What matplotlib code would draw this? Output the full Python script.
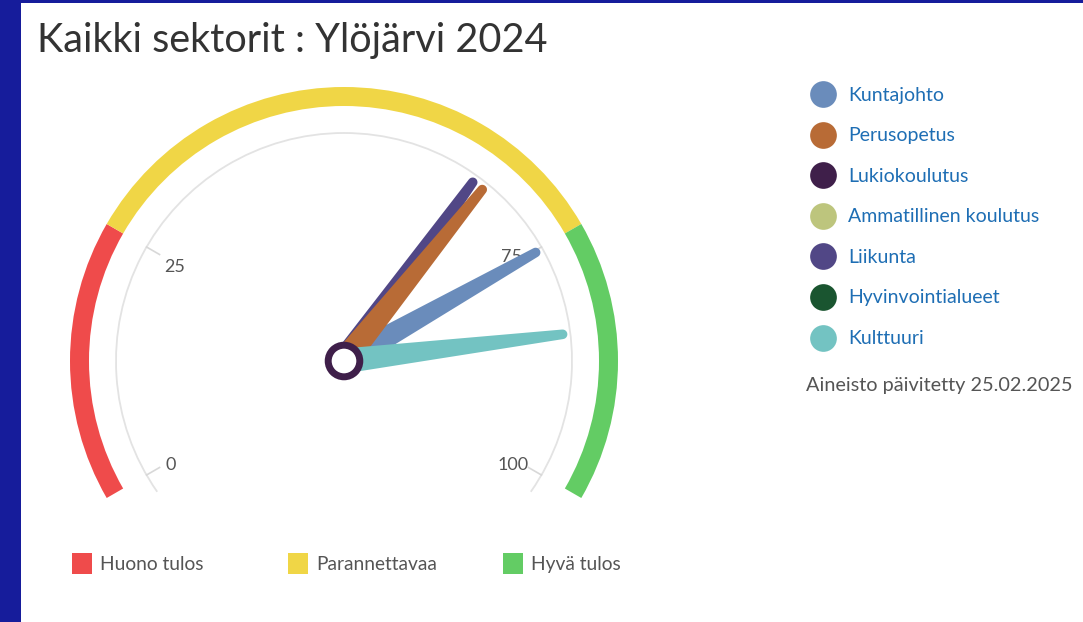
import numpy as np
import matplotlib.pyplot as plt
from matplotlib.patches import Wedge, Arc, Polygon, Circle, Rectangle

plt.rcParams['font.family'] = ['Lato', 'DejaVu Sans']

# sektorit ja arvot (0-100)
sektorit = ['Kuntajohto', 'Perusopetus', 'Lukiokoulutus', 'Ammatillinen koulutus',
            'Liikunta', 'Hyvinvointialueet', 'Kulttuuri']
arvot = [75.2, 66.2, None, None, 64.9, None, 84.6]
varit = ['#6a8cbb', '#b86b36', '#3f1f4a', '#bdc57d', '#514786', '#1a5530', '#73c3c2']
piirtojarjestys = [4, 0, 1, 6, 2, 3, 5]

# tulosalueet
alue_alku = [0, 25, 75]
alue_loppu = [25, 75, 100]
alue_nimet = ['Huono tulos', 'Parannettavaa', 'Hyvä tulos']
alue_varit = ['#ef4b4b', '#f0d646', '#63cc64']

asteikko = [0, 25, 75, 100]
# pieni siirto asteikon numeroille (px)
siirto_x = [-3, 1, -3, -2]
siirto_y = [-5, -5, 6, -5]

W, H = 1083, 622
CX, CY = 344, H - 361


def kulma(v):
    return 210 - 2.4 * v


fig = plt.figure(figsize=(W / 100, H / 100), dpi=100, facecolor='#161c9b')
ax = fig.add_axes([0, 0, 1, 1])
ax.set_xlim(0, W)
ax.set_ylim(0, H)
ax.axis('off')
ax.add_patch(Rectangle((21, 0), W - 21, H - 3, facecolor='white', edgecolor='none', zorder=0))

# otsikko
ax.text(37, H - 52, 'Kaikki sektorit : Ylöjärvi 2024', fontsize=28.5, color='#333333',
        va='baseline', ha='left')

# värialueet
for a, b, c in zip(alue_alku, alue_loppu, alue_varit):
    ax.add_patch(Wedge((CX, CY), 274, kulma(b), kulma(a), width=19, facecolor=c,
                       edgecolor='none', zorder=1))

# harmaa asteikkoviiva
ax.add_patch(Arc((CX, CY), 2 * 228, 2 * 228, theta1=-35, theta2=215, color='#e3e3e3',
                 lw=1.3, zorder=1))
for v, dx, dy in zip(asteikko, siirto_x, siirto_y):
    t = np.radians(kulma(v))
    ax.plot([CX + 228 * np.cos(t), CX + 213 * np.cos(t)],
            [CY + 228 * np.sin(t), CY + 213 * np.sin(t)], color='#d8d8d8', lw=1.2, zorder=1)
    ax.text(CX + 197 * np.cos(t) + dx, CY + 197 * np.sin(t) + dy, str(v), fontsize=13,
            color='#555555', ha='center', va='center', zorder=2)

# osoittimet
for i in piirtojarjestys:
    v = arvot[i]
    if v is None:
        continue
    t = np.radians(kulma(v))
    u = np.array([np.cos(t), np.sin(t)])
    n = np.array([-np.sin(t), np.cos(t)])
    c = np.array([CX, CY])
    L, rb, rt = 225, 12.5, 4.8
    kaari = np.linspace(-np.pi / 2, np.pi / 2, 12)
    karki = [c + u * (L - rt) + rt * (np.cos(k) * u + np.sin(k) * n) for k in kaari]
    pisteet = [c - n * rb] + karki + [c + n * rb]
    ax.add_patch(Polygon(pisteet, closed=True, facecolor=varit[i], edgecolor='none', zorder=3))

ax.add_patch(Circle((CX, CY), 15.8, facecolor='white', edgecolor='#3f1f4a', lw=5, zorder=4))

# sarjojen selite
for i, (nimi, vari) in enumerate(zip(sektorit, varit)):
    y = H - (94 + 40.6 * i)
    ax.scatter([823], [y], s=370, color=vari, zorder=2, linewidths=0)
    ax.text(848, y - 6.5, nimi, fontsize=14, color='#1e6eb4', va='baseline', ha='left')

ax.text(806, H - 391, 'Aineisto päivitetty 25.02.2025', fontsize=14.3, color='#555555',
        va='baseline', ha='left')

# alueiden selite
for x, nimi, vari in zip([72, 288, 503], alue_nimet, alue_varit):
    ax.add_patch(Rectangle((x, H - 574), 20, 21, facecolor=vari, edgecolor='none'))
    ax.text(x + 28, H - 570, nimi, fontsize=13.8, color='#555555', va='baseline', ha='left')

fig.savefig('out.png', dpi=100, facecolor=fig.get_facecolor())
